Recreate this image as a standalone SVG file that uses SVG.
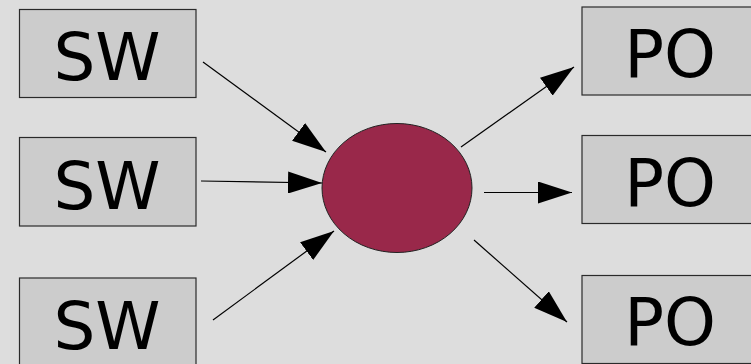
<svg xmlns="http://www.w3.org/2000/svg" width="751" height="364" viewBox="0 0 751 364">
<style>
.box{fill:#cccccc;stroke:#2a2a2a;stroke-width:1.2}
.lbl{font-family:"DejaVu Sans",sans-serif;font-size:66px;fill:#000;text-anchor:middle}
.con{stroke:#000;stroke-width:1.2;fill:none;marker-end:url(#ah)}
</style>
<defs>
<marker id="ah" markerUnits="userSpaceOnUse" markerWidth="34" markerHeight="22" refX="34" refY="11" orient="auto" viewBox="0 0 34 22">
<path d="M0,0 L34,11 L0,22 z" fill="#000"/>
</marker>
</defs>
<rect width="751" height="364" fill="#dddddd"/>
<g id="connectors">
<line class="con" x1="203" y1="62" x2="326" y2="152"/>
<line class="con" x1="201" y1="181" x2="322" y2="183"/>
<line class="con" x1="213" y1="320" x2="334" y2="231"/>
<line class="con" x1="461" y1="147" x2="574" y2="67"/>
<line class="con" x1="484" y1="192.5" x2="572" y2="192.5"/>
<line class="con" x1="474" y1="240" x2="567" y2="322"/>
</g>
<g id="sw1"><rect class="box" x="19.5" y="9.5" width="176.5" height="88"/><text class="lbl" x="107" y="80">SW</text></g>
<g id="sw2"><rect class="box" x="19.5" y="137.5" width="176.5" height="88.5"/><text class="lbl" x="107" y="208.5">SW</text></g>
<g id="sw3"><rect class="box" x="19.5" y="278" width="176.5" height="88"/><text class="lbl" x="107" y="348.5">SW</text></g>
<g id="hub"><ellipse cx="397" cy="188" rx="75" ry="64.5" fill="#99284a" stroke="#222" stroke-width="1"/></g>
<g id="po1"><rect class="box" x="582" y="7" width="176.5" height="88"/><text class="lbl" x="670" y="77">PO</text></g>
<g id="po2"><rect class="box" x="582" y="135.5" width="176.5" height="88"/><text class="lbl" x="670" y="205.5">PO</text></g>
<g id="po3"><rect class="box" x="582" y="275.5" width="176.5" height="88"/><text class="lbl" x="670" y="345">PO</text></g>
</svg>
